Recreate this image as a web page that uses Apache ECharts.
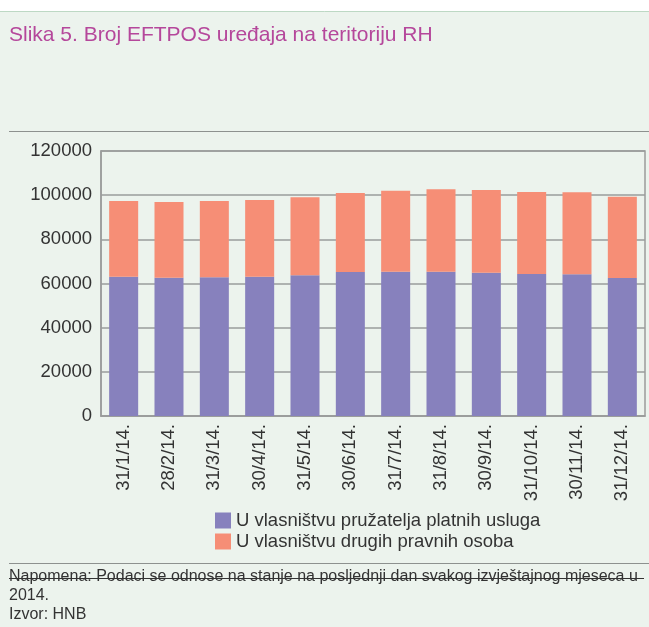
<!DOCTYPE html>
<html>
<head>
<meta charset="utf-8">
<script src="https://cdn.jsdelivr.net/npm/echarts@6/dist/echarts.min.js"></script>
<style>
  html, body { margin: 0; padding: 0; background: #fff; }
  #chart { width: 649px; height: 627px; }
</style>
</head>
<body>
<div id="chart"></div>
<script>
const categories = ['31/1/14.', '28/2/14.', '31/3/14.', '30/4/14.', '31/5/14.', '30/6/14.',
  '31/7/14.', '31/8/14.', '30/9/14.', '31/10/14.', '30/11/14.', '31/12/14.'];
const providerOwned = [63080, 62630, 62800, 63080, 63700, 65210, 65350, 65350, 64900, 64300, 64150, 62490];
const otherOwned = [34280, 34270, 34560, 34730, 35320, 35770, 36650, 37290, 37440, 37130, 37130, 36830];
const seriesNames = ['U vlasništvu pružatelja platnih usluga', 'U vlasništvu drugih pravnih osoba'];

const font = '"Liberation Sans", Arial, sans-serif';
const chart = echarts.init(document.getElementById('chart'));

const option = {
  animation: false,
  textStyle: { fontFamily: font },
  graphic: [
    { type: 'rect', z: -10, shape: { x: 0, y: 11, width: 649, height: 616 }, style: { fill: '#ecf3ed' } },
    { type: 'line', z: -5, shape: { x1: 0, y1: 11.5, x2: 649, y2: 11.5 }, style: { stroke: '#bdd8c4', lineWidth: 1 } },
    { type: 'text', left: 9, top: 25, style: { text: 'Slika 5. Broj EFTPOS uređaja na teritoriju RH', fill: '#b5479b', fontSize: 21, fontFamily: font } },
    { type: 'line', shape: { x1: 9, y1: 131.5, x2: 649, y2: 131.5 }, style: { stroke: '#8d918f', lineWidth: 1 } },
    { type: 'line', shape: { x1: 9, y1: 563.5, x2: 649, y2: 563.5 }, style: { stroke: '#8d918f', lineWidth: 1 } },
    { type: 'text', left: 9, top: 569, style: { text: 'Napomena: Podaci se odnose na stanje na posljednji dan svakog izvještajnog mjeseca u', fill: '#333', fontSize: 16, fontFamily: font } },
    { type: 'line', shape: { x1: 9, y1: 578.5, x2: 644, y2: 578.5 }, style: { stroke: '#333', lineWidth: 1 } },
    { type: 'text', left: 9, top: 588, style: { text: '2014.', fill: '#333', fontSize: 16, fontFamily: font } },
    { type: 'text', left: 9, top: 607, style: { text: 'Izvor: HNB', fill: '#333', fontSize: 16, fontFamily: font } }
  ],
  grid: {
    left: 101, right: 4, top: 151, bottom: 211,
    show: true, borderColor: '#9a9c9b', borderWidth: 1.5, backgroundColor: 'transparent'
  },
  legend: {
    orient: 'vertical',
    left: 210, top: 506,
    itemWidth: 16, itemHeight: 16, itemGap: 2,
    icon: 'rect',
    textStyle: { fontSize: 18.5, color: '#333', fontFamily: font },
    data: seriesNames
  },
  xAxis: {
    type: 'category',
    data: categories,
    axisLine: { lineStyle: { color: '#9a9c9b', width: 1.5 } },
    axisTick: { show: false },
    axisLabel: { rotate: 90, fontSize: 18.5, color: '#333', margin: 8, interval: 0 }
  },
  yAxis: {
    type: 'value',
    min: 0, max: 120000, interval: 20000,
    axisLine: { show: true, lineStyle: { color: '#9a9c9b', width: 1.5 } },
    axisTick: { show: false },
    splitLine: { lineStyle: { color: '#9a9c9b', width: 1.5 } },
    axisLabel: { fontSize: 18.5, color: '#333', margin: 9, formatter: v => String(v) }
  },
  series: [
    {
      name: seriesNames[0], type: 'bar', stack: 'total', barWidth: '64%',
      itemStyle: { color: '#8781bd' }, data: providerOwned
    },
    {
      name: seriesNames[1], type: 'bar', stack: 'total', barWidth: '64%',
      itemStyle: { color: '#f68e76' }, data: otherOwned
    }
  ]
};

chart.setOption(option);
</script>
</body>
</html>
